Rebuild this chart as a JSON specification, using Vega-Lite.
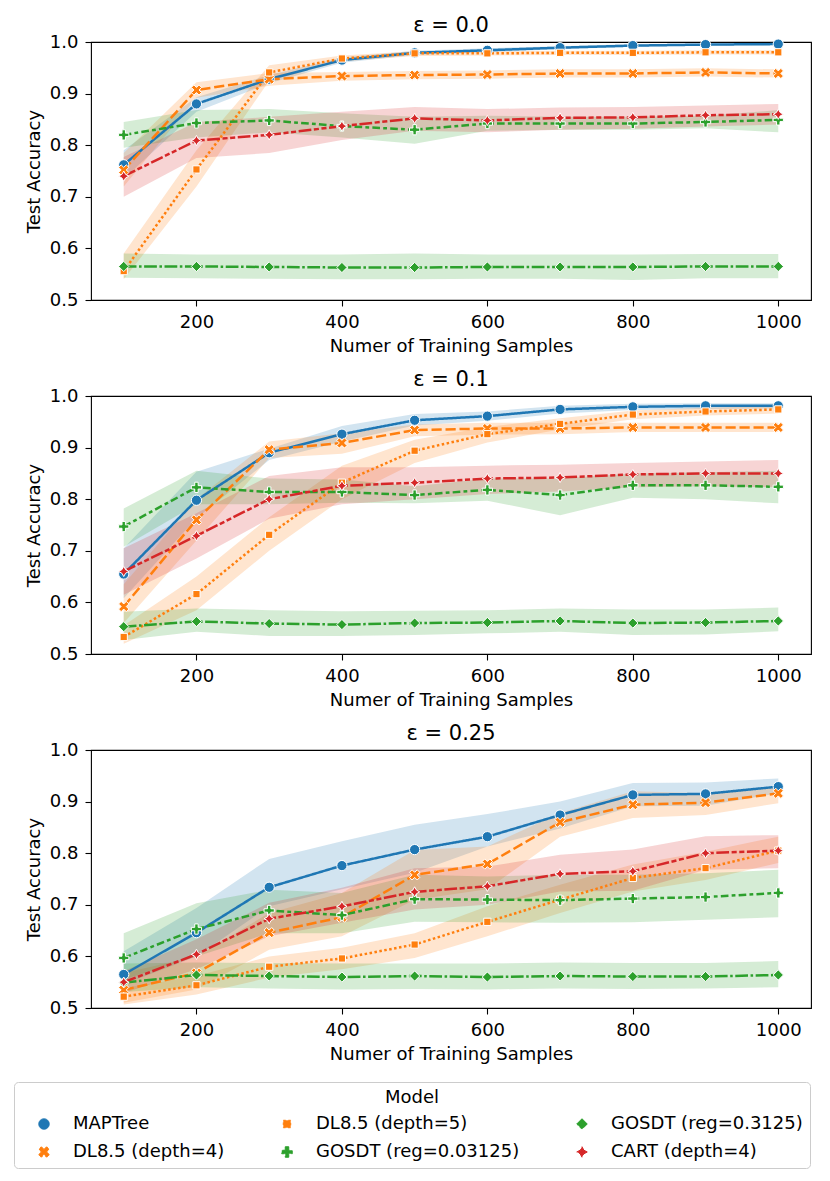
{
  "$schema": "https://vega.github.io/schema/vega-lite/v6.json",
  "padding": {"left": 13, "top": 14, "right": 10, "bottom": 5},
  "background": "white",
  "data": {"values": [
    {"eps":"0.0","model":"MAPTree","n":100,"acc":0.762,"lo":0.735,"hi":0.790},
    {"eps":"0.0","model":"MAPTree","n":200,"acc":0.880,"lo":0.865,"hi":0.893},
    {"eps":"0.0","model":"MAPTree","n":300,"acc":0.928,"lo":0.920,"hi":0.936},
    {"eps":"0.0","model":"MAPTree","n":400,"acc":0.965,"lo":0.960,"hi":0.970},
    {"eps":"0.0","model":"MAPTree","n":500,"acc":0.979,"lo":0.975,"hi":0.983},
    {"eps":"0.0","model":"MAPTree","n":600,"acc":0.984,"lo":0.980,"hi":0.988},
    {"eps":"0.0","model":"MAPTree","n":700,"acc":0.989,"lo":0.986,"hi":0.992},
    {"eps":"0.0","model":"MAPTree","n":800,"acc":0.993,"lo":0.991,"hi":0.996},
    {"eps":"0.0","model":"MAPTree","n":900,"acc":0.995,"lo":0.993,"hi":0.997},
    {"eps":"0.0","model":"MAPTree","n":1000,"acc":0.996,"lo":0.994,"hi":0.998},
    {"eps":"0.0","model":"DL8.5 (depth=4)","n":100,"acc":0.752,"lo":0.720,"hi":0.785},
    {"eps":"0.0","model":"DL8.5 (depth=4)","n":200,"acc":0.907,"lo":0.892,"hi":0.922},
    {"eps":"0.0","model":"DL8.5 (depth=4)","n":300,"acc":0.928,"lo":0.915,"hi":0.940},
    {"eps":"0.0","model":"DL8.5 (depth=4)","n":400,"acc":0.934,"lo":0.925,"hi":0.942},
    {"eps":"0.0","model":"DL8.5 (depth=4)","n":500,"acc":0.936,"lo":0.928,"hi":0.944},
    {"eps":"0.0","model":"DL8.5 (depth=4)","n":600,"acc":0.937,"lo":0.929,"hi":0.945},
    {"eps":"0.0","model":"DL8.5 (depth=4)","n":700,"acc":0.939,"lo":0.931,"hi":0.947},
    {"eps":"0.0","model":"DL8.5 (depth=4)","n":800,"acc":0.939,"lo":0.931,"hi":0.947},
    {"eps":"0.0","model":"DL8.5 (depth=4)","n":900,"acc":0.941,"lo":0.933,"hi":0.949},
    {"eps":"0.0","model":"DL8.5 (depth=4)","n":1000,"acc":0.939,"lo":0.931,"hi":0.947},
    {"eps":"0.0","model":"DL8.5 (depth=5)","n":100,"acc":0.556,"lo":0.540,"hi":0.590},
    {"eps":"0.0","model":"DL8.5 (depth=5)","n":200,"acc":0.753,"lo":0.720,"hi":0.790},
    {"eps":"0.0","model":"DL8.5 (depth=5)","n":300,"acc":0.941,"lo":0.925,"hi":0.955},
    {"eps":"0.0","model":"DL8.5 (depth=5)","n":400,"acc":0.968,"lo":0.962,"hi":0.974},
    {"eps":"0.0","model":"DL8.5 (depth=5)","n":500,"acc":0.978,"lo":0.973,"hi":0.982},
    {"eps":"0.0","model":"DL8.5 (depth=5)","n":600,"acc":0.978,"lo":0.974,"hi":0.982},
    {"eps":"0.0","model":"DL8.5 (depth=5)","n":700,"acc":0.979,"lo":0.975,"hi":0.983},
    {"eps":"0.0","model":"DL8.5 (depth=5)","n":800,"acc":0.979,"lo":0.975,"hi":0.983},
    {"eps":"0.0","model":"DL8.5 (depth=5)","n":900,"acc":0.980,"lo":0.976,"hi":0.984},
    {"eps":"0.0","model":"DL8.5 (depth=5)","n":1000,"acc":0.980,"lo":0.976,"hi":0.984},
    {"eps":"0.0","model":"GOSDT (reg=0.03125)","n":100,"acc":0.820,"lo":0.795,"hi":0.845},
    {"eps":"0.0","model":"GOSDT (reg=0.03125)","n":200,"acc":0.843,"lo":0.815,"hi":0.868},
    {"eps":"0.0","model":"GOSDT (reg=0.03125)","n":300,"acc":0.848,"lo":0.825,"hi":0.870},
    {"eps":"0.0","model":"GOSDT (reg=0.03125)","n":400,"acc":0.837,"lo":0.815,"hi":0.862},
    {"eps":"0.0","model":"GOSDT (reg=0.03125)","n":500,"acc":0.830,"lo":0.803,"hi":0.855},
    {"eps":"0.0","model":"GOSDT (reg=0.03125)","n":600,"acc":0.842,"lo":0.828,"hi":0.857},
    {"eps":"0.0","model":"GOSDT (reg=0.03125)","n":700,"acc":0.842,"lo":0.830,"hi":0.855},
    {"eps":"0.0","model":"GOSDT (reg=0.03125)","n":800,"acc":0.842,"lo":0.830,"hi":0.855},
    {"eps":"0.0","model":"GOSDT (reg=0.03125)","n":900,"acc":0.845,"lo":0.833,"hi":0.857},
    {"eps":"0.0","model":"GOSDT (reg=0.03125)","n":1000,"acc":0.849,"lo":0.825,"hi":0.868},
    {"eps":"0.0","model":"GOSDT (reg=0.3125)","n":100,"acc":0.565,"lo":0.543,"hi":0.590},
    {"eps":"0.0","model":"GOSDT (reg=0.3125)","n":200,"acc":0.565,"lo":0.542,"hi":0.588},
    {"eps":"0.0","model":"GOSDT (reg=0.3125)","n":300,"acc":0.564,"lo":0.541,"hi":0.588},
    {"eps":"0.0","model":"GOSDT (reg=0.3125)","n":400,"acc":0.563,"lo":0.540,"hi":0.588},
    {"eps":"0.0","model":"GOSDT (reg=0.3125)","n":500,"acc":0.563,"lo":0.540,"hi":0.590},
    {"eps":"0.0","model":"GOSDT (reg=0.3125)","n":600,"acc":0.564,"lo":0.541,"hi":0.588},
    {"eps":"0.0","model":"GOSDT (reg=0.3125)","n":700,"acc":0.564,"lo":0.541,"hi":0.588},
    {"eps":"0.0","model":"GOSDT (reg=0.3125)","n":800,"acc":0.564,"lo":0.539,"hi":0.588},
    {"eps":"0.0","model":"GOSDT (reg=0.3125)","n":900,"acc":0.565,"lo":0.542,"hi":0.589},
    {"eps":"0.0","model":"GOSDT (reg=0.3125)","n":1000,"acc":0.565,"lo":0.542,"hi":0.589},
    {"eps":"0.0","model":"CART (depth=4)","n":100,"acc":0.740,"lo":0.700,"hi":0.777},
    {"eps":"0.0","model":"CART (depth=4)","n":200,"acc":0.809,"lo":0.775,"hi":0.845},
    {"eps":"0.0","model":"CART (depth=4)","n":300,"acc":0.820,"lo":0.785,"hi":0.855},
    {"eps":"0.0","model":"CART (depth=4)","n":400,"acc":0.837,"lo":0.810,"hi":0.865},
    {"eps":"0.0","model":"CART (depth=4)","n":500,"acc":0.852,"lo":0.828,"hi":0.874},
    {"eps":"0.0","model":"CART (depth=4)","n":600,"acc":0.848,"lo":0.825,"hi":0.870},
    {"eps":"0.0","model":"CART (depth=4)","n":700,"acc":0.853,"lo":0.830,"hi":0.873},
    {"eps":"0.0","model":"CART (depth=4)","n":800,"acc":0.854,"lo":0.832,"hi":0.874},
    {"eps":"0.0","model":"CART (depth=4)","n":900,"acc":0.858,"lo":0.836,"hi":0.877},
    {"eps":"0.0","model":"CART (depth=4)","n":1000,"acc":0.860,"lo":0.840,"hi":0.880},

    {"eps":"0.1","model":"MAPTree","n":100,"acc":0.655,"lo":0.608,"hi":0.705},
    {"eps":"0.1","model":"MAPTree","n":200,"acc":0.798,"lo":0.763,"hi":0.853},
    {"eps":"0.1","model":"MAPTree","n":300,"acc":0.890,"lo":0.876,"hi":0.898},
    {"eps":"0.1","model":"MAPTree","n":400,"acc":0.926,"lo":0.912,"hi":0.942},
    {"eps":"0.1","model":"MAPTree","n":500,"acc":0.953,"lo":0.943,"hi":0.965},
    {"eps":"0.1","model":"MAPTree","n":600,"acc":0.961,"lo":0.952,"hi":0.970},
    {"eps":"0.1","model":"MAPTree","n":700,"acc":0.974,"lo":0.966,"hi":0.981},
    {"eps":"0.1","model":"MAPTree","n":800,"acc":0.979,"lo":0.973,"hi":0.985},
    {"eps":"0.1","model":"MAPTree","n":900,"acc":0.981,"lo":0.975,"hi":0.986},
    {"eps":"0.1","model":"MAPTree","n":1000,"acc":0.981,"lo":0.976,"hi":0.986},
    {"eps":"0.1","model":"DL8.5 (depth=4)","n":100,"acc":0.592,"lo":0.560,"hi":0.635},
    {"eps":"0.1","model":"DL8.5 (depth=4)","n":200,"acc":0.760,"lo":0.720,"hi":0.800},
    {"eps":"0.1","model":"DL8.5 (depth=4)","n":300,"acc":0.896,"lo":0.880,"hi":0.912},
    {"eps":"0.1","model":"DL8.5 (depth=4)","n":400,"acc":0.909,"lo":0.888,"hi":0.928},
    {"eps":"0.1","model":"DL8.5 (depth=4)","n":500,"acc":0.934,"lo":0.922,"hi":0.945},
    {"eps":"0.1","model":"DL8.5 (depth=4)","n":600,"acc":0.937,"lo":0.925,"hi":0.948},
    {"eps":"0.1","model":"DL8.5 (depth=4)","n":700,"acc":0.937,"lo":0.926,"hi":0.948},
    {"eps":"0.1","model":"DL8.5 (depth=4)","n":800,"acc":0.939,"lo":0.930,"hi":0.948},
    {"eps":"0.1","model":"DL8.5 (depth=4)","n":900,"acc":0.939,"lo":0.930,"hi":0.948},
    {"eps":"0.1","model":"DL8.5 (depth=4)","n":1000,"acc":0.939,"lo":0.930,"hi":0.948},
    {"eps":"0.1","model":"DL8.5 (depth=5)","n":100,"acc":0.533,"lo":0.520,"hi":0.555},
    {"eps":"0.1","model":"DL8.5 (depth=5)","n":200,"acc":0.616,"lo":0.585,"hi":0.650},
    {"eps":"0.1","model":"DL8.5 (depth=5)","n":300,"acc":0.731,"lo":0.700,"hi":0.765},
    {"eps":"0.1","model":"DL8.5 (depth=5)","n":400,"acc":0.832,"lo":0.800,"hi":0.865},
    {"eps":"0.1","model":"DL8.5 (depth=5)","n":500,"acc":0.894,"lo":0.870,"hi":0.915},
    {"eps":"0.1","model":"DL8.5 (depth=5)","n":600,"acc":0.926,"lo":0.910,"hi":0.940},
    {"eps":"0.1","model":"DL8.5 (depth=5)","n":700,"acc":0.946,"lo":0.935,"hi":0.957},
    {"eps":"0.1","model":"DL8.5 (depth=5)","n":800,"acc":0.964,"lo":0.955,"hi":0.972},
    {"eps":"0.1","model":"DL8.5 (depth=5)","n":900,"acc":0.970,"lo":0.962,"hi":0.977},
    {"eps":"0.1","model":"DL8.5 (depth=5)","n":1000,"acc":0.974,"lo":0.966,"hi":0.981},
    {"eps":"0.1","model":"GOSDT (reg=0.03125)","n":100,"acc":0.747,"lo":0.708,"hi":0.782},
    {"eps":"0.1","model":"GOSDT (reg=0.03125)","n":200,"acc":0.823,"lo":0.790,"hi":0.855},
    {"eps":"0.1","model":"GOSDT (reg=0.03125)","n":300,"acc":0.814,"lo":0.790,"hi":0.840},
    {"eps":"0.1","model":"GOSDT (reg=0.03125)","n":400,"acc":0.814,"lo":0.793,"hi":0.838},
    {"eps":"0.1","model":"GOSDT (reg=0.03125)","n":500,"acc":0.808,"lo":0.792,"hi":0.825},
    {"eps":"0.1","model":"GOSDT (reg=0.03125)","n":600,"acc":0.818,"lo":0.797,"hi":0.840},
    {"eps":"0.1","model":"GOSDT (reg=0.03125)","n":700,"acc":0.808,"lo":0.769,"hi":0.840},
    {"eps":"0.1","model":"GOSDT (reg=0.03125)","n":800,"acc":0.827,"lo":0.803,"hi":0.850},
    {"eps":"0.1","model":"GOSDT (reg=0.03125)","n":900,"acc":0.827,"lo":0.800,"hi":0.852},
    {"eps":"0.1","model":"GOSDT (reg=0.03125)","n":1000,"acc":0.824,"lo":0.792,"hi":0.855},
    {"eps":"0.1","model":"GOSDT (reg=0.3125)","n":100,"acc":0.553,"lo":0.527,"hi":0.582},
    {"eps":"0.1","model":"GOSDT (reg=0.3125)","n":200,"acc":0.563,"lo":0.543,"hi":0.588},
    {"eps":"0.1","model":"GOSDT (reg=0.3125)","n":300,"acc":0.559,"lo":0.535,"hi":0.585},
    {"eps":"0.1","model":"GOSDT (reg=0.3125)","n":400,"acc":0.557,"lo":0.535,"hi":0.583},
    {"eps":"0.1","model":"GOSDT (reg=0.3125)","n":500,"acc":0.560,"lo":0.537,"hi":0.584},
    {"eps":"0.1","model":"GOSDT (reg=0.3125)","n":600,"acc":0.561,"lo":0.540,"hi":0.585},
    {"eps":"0.1","model":"GOSDT (reg=0.3125)","n":700,"acc":0.564,"lo":0.543,"hi":0.588},
    {"eps":"0.1","model":"GOSDT (reg=0.3125)","n":800,"acc":0.560,"lo":0.537,"hi":0.586},
    {"eps":"0.1","model":"GOSDT (reg=0.3125)","n":900,"acc":0.561,"lo":0.538,"hi":0.586},
    {"eps":"0.1","model":"GOSDT (reg=0.3125)","n":1000,"acc":0.564,"lo":0.544,"hi":0.590},
    {"eps":"0.1","model":"CART (depth=4)","n":100,"acc":0.660,"lo":0.615,"hi":0.705},
    {"eps":"0.1","model":"CART (depth=4)","n":200,"acc":0.729,"lo":0.685,"hi":0.773},
    {"eps":"0.1","model":"CART (depth=4)","n":300,"acc":0.800,"lo":0.762,"hi":0.845},
    {"eps":"0.1","model":"CART (depth=4)","n":400,"acc":0.826,"lo":0.790,"hi":0.862},
    {"eps":"0.1","model":"CART (depth=4)","n":500,"acc":0.832,"lo":0.800,"hi":0.862},
    {"eps":"0.1","model":"CART (depth=4)","n":600,"acc":0.840,"lo":0.810,"hi":0.865},
    {"eps":"0.1","model":"CART (depth=4)","n":700,"acc":0.842,"lo":0.815,"hi":0.867},
    {"eps":"0.1","model":"CART (depth=4)","n":800,"acc":0.848,"lo":0.823,"hi":0.870},
    {"eps":"0.1","model":"CART (depth=4)","n":900,"acc":0.850,"lo":0.825,"hi":0.873},
    {"eps":"0.1","model":"CART (depth=4)","n":1000,"acc":0.850,"lo":0.823,"hi":0.876},

    {"eps":"0.25","model":"MAPTree","n":100,"acc":0.565,"lo":0.546,"hi":0.610},
    {"eps":"0.25","model":"MAPTree","n":200,"acc":0.646,"lo":0.600,"hi":0.694},
    {"eps":"0.25","model":"MAPTree","n":300,"acc":0.734,"lo":0.697,"hi":0.789},
    {"eps":"0.25","model":"MAPTree","n":400,"acc":0.776,"lo":0.730,"hi":0.823},
    {"eps":"0.25","model":"MAPTree","n":500,"acc":0.807,"lo":0.762,"hi":0.855},
    {"eps":"0.25","model":"MAPTree","n":600,"acc":0.832,"lo":0.813,"hi":0.876},
    {"eps":"0.25","model":"MAPTree","n":700,"acc":0.874,"lo":0.848,"hi":0.900},
    {"eps":"0.25","model":"MAPTree","n":800,"acc":0.913,"lo":0.891,"hi":0.936},
    {"eps":"0.25","model":"MAPTree","n":900,"acc":0.915,"lo":0.892,"hi":0.937},
    {"eps":"0.25","model":"MAPTree","n":1000,"acc":0.929,"lo":0.916,"hi":0.945},
    {"eps":"0.25","model":"DL8.5 (depth=4)","n":100,"acc":0.535,"lo":0.510,"hi":0.568},
    {"eps":"0.25","model":"DL8.5 (depth=4)","n":200,"acc":0.568,"lo":0.536,"hi":0.600},
    {"eps":"0.25","model":"DL8.5 (depth=4)","n":300,"acc":0.646,"lo":0.613,"hi":0.684},
    {"eps":"0.25","model":"DL8.5 (depth=4)","n":400,"acc":0.676,"lo":0.639,"hi":0.723},
    {"eps":"0.25","model":"DL8.5 (depth=4)","n":500,"acc":0.758,"lo":0.710,"hi":0.806},
    {"eps":"0.25","model":"DL8.5 (depth=4)","n":600,"acc":0.779,"lo":0.730,"hi":0.813},
    {"eps":"0.25","model":"DL8.5 (depth=4)","n":700,"acc":0.860,"lo":0.832,"hi":0.878},
    {"eps":"0.25","model":"DL8.5 (depth=4)","n":800,"acc":0.894,"lo":0.868,"hi":0.920},
    {"eps":"0.25","model":"DL8.5 (depth=4)","n":900,"acc":0.898,"lo":0.874,"hi":0.916},
    {"eps":"0.25","model":"DL8.5 (depth=4)","n":1000,"acc":0.916,"lo":0.897,"hi":0.929},
    {"eps":"0.25","model":"DL8.5 (depth=5)","n":100,"acc":0.522,"lo":0.507,"hi":0.539},
    {"eps":"0.25","model":"DL8.5 (depth=5)","n":200,"acc":0.544,"lo":0.526,"hi":0.562},
    {"eps":"0.25","model":"DL8.5 (depth=5)","n":300,"acc":0.580,"lo":0.559,"hi":0.600},
    {"eps":"0.25","model":"DL8.5 (depth=5)","n":400,"acc":0.596,"lo":0.575,"hi":0.617},
    {"eps":"0.25","model":"DL8.5 (depth=5)","n":500,"acc":0.623,"lo":0.597,"hi":0.645},
    {"eps":"0.25","model":"DL8.5 (depth=5)","n":600,"acc":0.667,"lo":0.639,"hi":0.697},
    {"eps":"0.25","model":"DL8.5 (depth=5)","n":700,"acc":0.710,"lo":0.684,"hi":0.739},
    {"eps":"0.25","model":"DL8.5 (depth=5)","n":800,"acc":0.752,"lo":0.726,"hi":0.778},
    {"eps":"0.25","model":"DL8.5 (depth=5)","n":900,"acc":0.771,"lo":0.748,"hi":0.803},
    {"eps":"0.25","model":"DL8.5 (depth=5)","n":1000,"acc":0.805,"lo":0.781,"hi":0.832},
    {"eps":"0.25","model":"GOSDT (reg=0.03125)","n":100,"acc":0.597,"lo":0.555,"hi":0.645},
    {"eps":"0.25","model":"GOSDT (reg=0.03125)","n":200,"acc":0.653,"lo":0.600,"hi":0.703},
    {"eps":"0.25","model":"GOSDT (reg=0.03125)","n":300,"acc":0.689,"lo":0.645,"hi":0.729},
    {"eps":"0.25","model":"GOSDT (reg=0.03125)","n":400,"acc":0.680,"lo":0.645,"hi":0.723},
    {"eps":"0.25","model":"GOSDT (reg=0.03125)","n":500,"acc":0.711,"lo":0.667,"hi":0.758},
    {"eps":"0.25","model":"GOSDT (reg=0.03125)","n":600,"acc":0.710,"lo":0.666,"hi":0.755},
    {"eps":"0.25","model":"GOSDT (reg=0.03125)","n":700,"acc":0.709,"lo":0.665,"hi":0.758},
    {"eps":"0.25","model":"GOSDT (reg=0.03125)","n":800,"acc":0.712,"lo":0.666,"hi":0.758},
    {"eps":"0.25","model":"GOSDT (reg=0.03125)","n":900,"acc":0.715,"lo":0.671,"hi":0.761},
    {"eps":"0.25","model":"GOSDT (reg=0.03125)","n":1000,"acc":0.723,"lo":0.676,"hi":0.768},
    {"eps":"0.25","model":"GOSDT (reg=0.3125)","n":100,"acc":0.549,"lo":0.531,"hi":0.586},
    {"eps":"0.25","model":"GOSDT (reg=0.3125)","n":200,"acc":0.564,"lo":0.540,"hi":0.588},
    {"eps":"0.25","model":"GOSDT (reg=0.3125)","n":300,"acc":0.562,"lo":0.538,"hi":0.587},
    {"eps":"0.25","model":"GOSDT (reg=0.3125)","n":400,"acc":0.560,"lo":0.536,"hi":0.586},
    {"eps":"0.25","model":"GOSDT (reg=0.3125)","n":500,"acc":0.562,"lo":0.537,"hi":0.586},
    {"eps":"0.25","model":"GOSDT (reg=0.3125)","n":600,"acc":0.560,"lo":0.536,"hi":0.586},
    {"eps":"0.25","model":"GOSDT (reg=0.3125)","n":700,"acc":0.562,"lo":0.538,"hi":0.588},
    {"eps":"0.25","model":"GOSDT (reg=0.3125)","n":800,"acc":0.561,"lo":0.537,"hi":0.587},
    {"eps":"0.25","model":"GOSDT (reg=0.3125)","n":900,"acc":0.561,"lo":0.538,"hi":0.587},
    {"eps":"0.25","model":"GOSDT (reg=0.3125)","n":1000,"acc":0.564,"lo":0.540,"hi":0.591},
    {"eps":"0.25","model":"CART (depth=4)","n":100,"acc":0.550,"lo":0.529,"hi":0.571},
    {"eps":"0.25","model":"CART (depth=4)","n":200,"acc":0.604,"lo":0.575,"hi":0.633},
    {"eps":"0.25","model":"CART (depth=4)","n":300,"acc":0.673,"lo":0.639,"hi":0.704},
    {"eps":"0.25","model":"CART (depth=4)","n":400,"acc":0.697,"lo":0.665,"hi":0.733},
    {"eps":"0.25","model":"CART (depth=4)","n":500,"acc":0.725,"lo":0.691,"hi":0.771},
    {"eps":"0.25","model":"CART (depth=4)","n":600,"acc":0.736,"lo":0.700,"hi":0.774},
    {"eps":"0.25","model":"CART (depth=4)","n":700,"acc":0.760,"lo":0.726,"hi":0.797},
    {"eps":"0.25","model":"CART (depth=4)","n":800,"acc":0.765,"lo":0.727,"hi":0.807},
    {"eps":"0.25","model":"CART (depth=4)","n":900,"acc":0.800,"lo":0.768,"hi":0.833},
    {"eps":"0.25","model":"CART (depth=4)","n":1000,"acc":0.805,"lo":0.771,"hi":0.835}
  ]},
  "spacing": 12,
  "vconcat": [
    {
      "title": "ε = 0.0",
      "width": 720, "height": 258,
      "transform": [{"filter": "datum.eps == '0.0'"}],
      "encoding": {
        "x": {"field": "n", "type": "quantitative", "scale": {"domain": [55, 1045], "nice": false, "zero": false}, "axis": {"values": [200, 400, 600, 800, 1000], "format": "d", "title": "Numer of Training Samples"}}
      },
      "layer": [
        {"mark": {"type": "area", "fillOpacity": 0.2, "strokeWidth": 0},
         "encoding": {
           "y": {"field": "lo", "type": "quantitative", "scale": {"domain": [0.5, 1.0], "nice": false, "zero": false}, "axis": {"values": [0.5, 0.6, 0.7, 0.8, 0.9, 1.0], "format": ".1f", "title": "Test Accuracy"}},
           "y2": {"field": "hi"},
           "color": {"field": "model", "type": "nominal", "title": "Model",
             "scale": {"domain": ["MAPTree", "DL8.5 (depth=5)", "GOSDT (reg=0.3125)", "DL8.5 (depth=4)", "GOSDT (reg=0.03125)", "CART (depth=4)"], "range": ["#1f77b4", "#ff7f0e", "#2ca02c", "#ff7f0e", "#2ca02c", "#d62728"]},
             "legend": {
               "orient": "none", "legendX": -77, "legendY": 1040,
               "columns": 3, "direction": "horizontal",
               "symbolSize": 110, "symbolOffset": 14, "labelOffset": 20, "columnPadding": 39, "rowPadding": 10,
               "labelFontSize": 18, "labelFont": "DejaVu Sans", "labelColor": "black", "labelLimit": 400,
               "titleFontSize": 18, "titleFont": "DejaVu Sans", "titleFontWeight": "normal", "titleColor": "black", "titleAnchor": "middle", "titlePadding": 8,
               "padding": 7, "strokeColor": "#cccccc", "fillColor": "white", "cornerRadius": 4,
               "symbolStrokeWidth": 1, "symbolOpacity": 1
             }}
         }},
        {"mark": {"type": "line", "strokeWidth": 2.5},
         "encoding": {
           "y": {"field": "acc", "type": "quantitative"},
           "color": {"field": "model", "type": "nominal", "title": "Model"},
           "strokeDash": {"field": "model", "type": "nominal", "title": "Model", "scale": {"domain": ["MAPTree", "DL8.5 (depth=5)", "GOSDT (reg=0.3125)", "DL8.5 (depth=4)", "GOSDT (reg=0.03125)", "CART (depth=4)"], "range": [[1, 0], [2.5, 2.5], [12.75, 2.55, 2.55, 2.55], [10.2, 3.8], [7.65, 3.2, 3.8, 3.2], [12.75, 2.55, 5.1, 2.55, 5.1, 2.55]]}}
         }},
        {"mark": {"type": "point", "filled": true, "fillOpacity": 1, "opacity": 1, "stroke": "white", "strokeWidth": 1, "size": 105},
         "encoding": {
           "y": {"field": "acc", "type": "quantitative"},
           "color": {"field": "model", "type": "nominal", "title": "Model"},
           "shape": {"field": "model", "type": "nominal", "title": "Model", "scale": {"domain": ["MAPTree", "DL8.5 (depth=5)", "GOSDT (reg=0.3125)", "DL8.5 (depth=4)", "GOSDT (reg=0.03125)", "CART (depth=4)"], "range": ["circle", "M-0.707,-0.707H0.707V0.707H-0.707Z", "M0,-1L1,0L0,1L-1,0Z", "M-0.5,-1L0,-0.5L0.5,-1L1,-0.5L0.5,0L1,0.5L0.5,1L0,0.5L-0.5,1L-1,0.5L-0.5,0L-1,-0.5Z", "M-0.333,-1H0.333V-0.333H1V0.333H0.333V1H-0.333V0.333H-1V-0.333H-0.333Z", "M0,-1L0.354,-0.354L1,0L0.354,0.354L0,1L-0.354,0.354L-1,0L-0.354,-0.354Z"]}}
         }}
      ]
    },
    {
      "title": "ε = 0.1",
      "width": 720, "height": 258,
      "transform": [{"filter": "datum.eps == '0.1'"}],
      "encoding": {
        "x": {"field": "n", "type": "quantitative", "scale": {"domain": [55, 1045], "nice": false, "zero": false}, "axis": {"values": [200, 400, 600, 800, 1000], "format": "d", "title": "Numer of Training Samples"}}
      },
      "layer": [
        {"mark": {"type": "area", "fillOpacity": 0.2, "strokeWidth": 0},
         "encoding": {
           "y": {"field": "lo", "type": "quantitative", "scale": {"domain": [0.5, 1.0], "nice": false, "zero": false}, "axis": {"values": [0.5, 0.6, 0.7, 0.8, 0.9, 1.0], "format": ".1f", "title": "Test Accuracy"}},
           "y2": {"field": "hi"},
           "color": {"field": "model", "type": "nominal", "title": "Model"}
         }},
        {"mark": {"type": "line", "strokeWidth": 2.5},
         "encoding": {
           "y": {"field": "acc", "type": "quantitative"},
           "color": {"field": "model", "type": "nominal", "title": "Model"},
           "strokeDash": {"field": "model", "type": "nominal", "title": "Model"}
         }},
        {"mark": {"type": "point", "filled": true, "fillOpacity": 1, "opacity": 1, "stroke": "white", "strokeWidth": 1, "size": 105},
         "encoding": {
           "y": {"field": "acc", "type": "quantitative"},
           "color": {"field": "model", "type": "nominal", "title": "Model"},
           "shape": {"field": "model", "type": "nominal", "title": "Model"}
         }}
      ]
    },
    {
      "title": "ε = 0.25",
      "width": 720, "height": 258,
      "transform": [{"filter": "datum.eps == '0.25'"}],
      "encoding": {
        "x": {"field": "n", "type": "quantitative", "scale": {"domain": [55, 1045], "nice": false, "zero": false}, "axis": {"values": [200, 400, 600, 800, 1000], "format": "d", "title": "Numer of Training Samples"}}
      },
      "layer": [
        {"mark": {"type": "area", "fillOpacity": 0.2, "strokeWidth": 0},
         "encoding": {
           "y": {"field": "lo", "type": "quantitative", "scale": {"domain": [0.5, 1.0], "nice": false, "zero": false}, "axis": {"values": [0.5, 0.6, 0.7, 0.8, 0.9, 1.0], "format": ".1f", "title": "Test Accuracy"}},
           "y2": {"field": "hi"},
           "color": {"field": "model", "type": "nominal", "title": "Model"}
         }},
        {"mark": {"type": "line", "strokeWidth": 2.5},
         "encoding": {
           "y": {"field": "acc", "type": "quantitative"},
           "color": {"field": "model", "type": "nominal", "title": "Model"},
           "strokeDash": {"field": "model", "type": "nominal", "title": "Model"}
         }},
        {"mark": {"type": "point", "filled": true, "fillOpacity": 1, "opacity": 1, "stroke": "white", "strokeWidth": 1, "size": 105},
         "encoding": {
           "y": {"field": "acc", "type": "quantitative"},
           "color": {"field": "model", "type": "nominal", "title": "Model"},
           "shape": {"field": "model", "type": "nominal", "title": "Model"}
         }}
      ]
    }
  ],
  "resolve": {"scale": {"color": "shared", "shape": "shared", "strokeDash": "shared"}},
  "config": {
    "font": "DejaVu Sans",
    "view": {"stroke": "black", "strokeWidth": 1.1},
    "axis": {"grid": false, "domain": false, "ticks": true, "tickColor": "black", "tickSize": 6, "tickWidth": 1.1, "labelColor": "black", "labelFontSize": 18, "labelPadding": 7, "labelFont": "DejaVu Sans", "titleColor": "black", "titleFontSize": 18, "titleFontWeight": "normal", "titleFont": "DejaVu Sans", "titlePadding": 6},
    "title": {"fontSize": 21, "fontWeight": "normal", "color": "black", "font": "DejaVu Sans", "offset": -3, "anchor": "middle"}
  }
}
